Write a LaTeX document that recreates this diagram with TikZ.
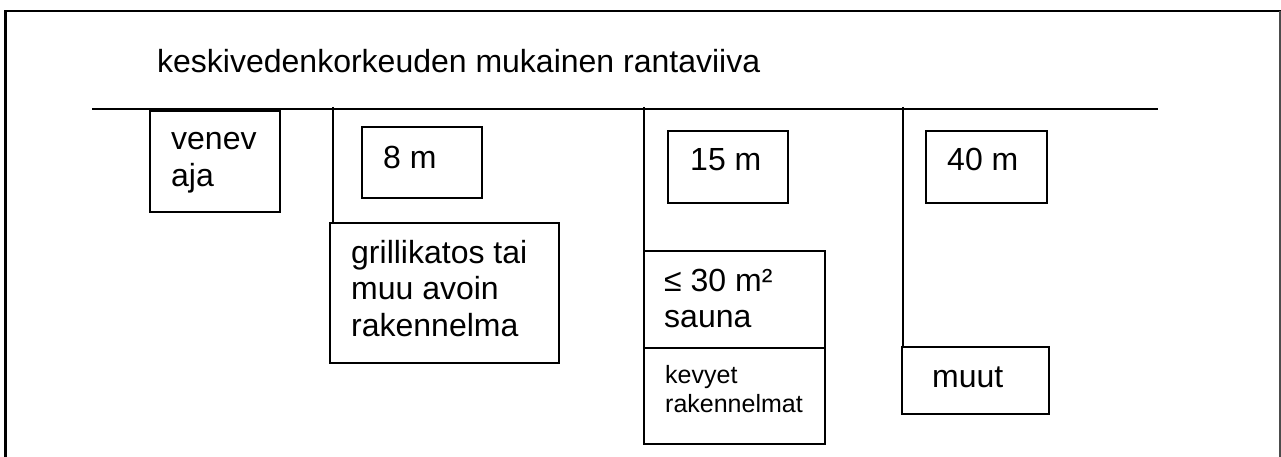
\documentclass[tikz,border=0pt]{standalone}
\usepackage{fontspec}
\setmainfont{Liberation Sans}
\newcommand{\lines}[1]{\begin{tabular}[t]{@{}l@{}}#1\end{tabular}}
\tikzset{
  box/.style={draw, line width=1.6pt, rectangle, inner sep=0pt},
  lbl/.style={anchor=base west, inner sep=0pt, font=\fontsize{32}{36.5}\selectfont},
  small/.style={anchor=base west, inner sep=0pt, font=\fontsize{25}{29}\selectfont},
  conn/.style={line width=1.6pt}
}
\begin{document}
\begin{tikzpicture}[x=1pt,y=-1pt]
\useasboundingbox (0,0) rectangle (1281,457);
% frame
\draw[line width=2.6pt] (5.5,460) -- (5.5,11) -- (1281,11);
\draw[line width=1.2pt, black!70] (1280,11) -- (1280,460);
% title
\node[lbl] (title) at (157,73) {keskivedenkorkeuden mukainen rantaviiva};
% shoreline
\coordinate (sl) at (92,109);
\coordinate (sr) at (1158,109);
\draw[conn] (sl) -- (sr);
% boxes
\node[box, minimum width=130, minimum height=101] (vene) at (215,161.5) {};
\node[box, minimum width=120, minimum height=71] (b8) at (422,162.5) {};
\node[box, minimum width=229, minimum height=140] (grilli) at (444.5,293) {};
\node[box, minimum width=120, minimum height=72] (b15) at (728,167) {};
\node[box, minimum width=181, minimum height=97] (sauna) at (734.5,299.5) {};
\node[box, minimum width=181, minimum height=96] (kevyet) at (734.5,396) {};
\node[box, minimum width=121, minimum height=72] (b40) at (986.5,167) {};
\node[box, minimum width=147, minimum height=67] (muut) at (975.5,380.5) {};
% vertical lines
\coordinate (v1) at (333,107);
\coordinate (v2) at (644,107);
\coordinate (v3) at (903,107);
\draw[conn] (v1) -- (v1 |- grilli.north);
\draw[conn] (v2) -- (v2 |- sauna.north);
\draw[conn] (v3) -- (v3 |- muut.north);
% texts
\node[lbl] (tvene) at (171,150) {\lines{venev\\aja}};
\node[lbl] (t8) at (383,168) {8 m};
\node[lbl] (tgrilli) at (351,263) {\lines{grillikatos tai\\muu avoin\\rakennelma}};
\node[lbl] (t15) at (690,171) {15 m};
\node[lbl] (tsauna) at (664,291) {\lines{≤ 30 m²\\sauna}};
\node[small] (tkevyet) at (665,383) {\lines{kevyet\\rakennelmat}};
\node[lbl] (t40) at (947,171) {40 m};
\node[lbl] (tmuut) at (932,387) {muut};
\end{tikzpicture}
\end{document}
